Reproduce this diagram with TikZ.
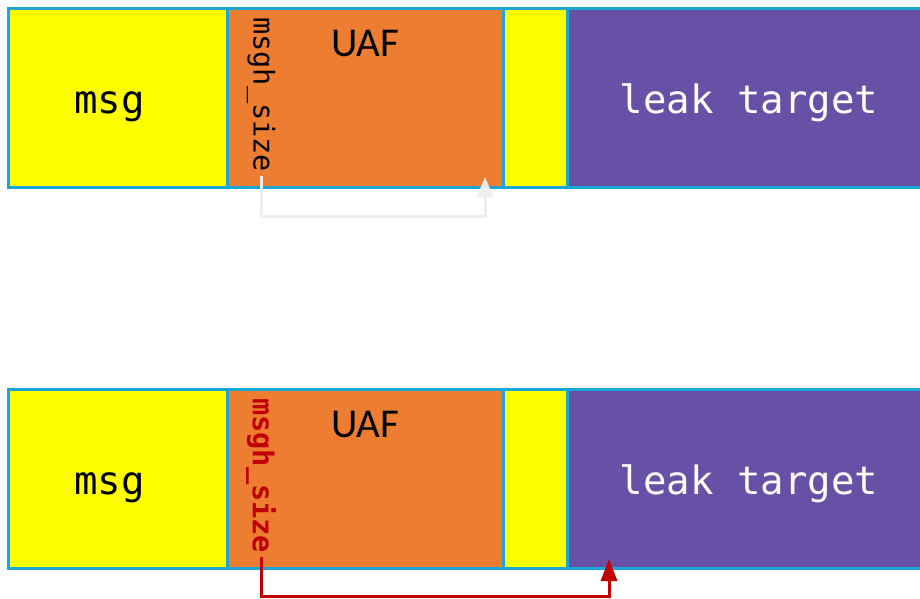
\documentclass[tikz,border=0pt]{standalone}
\usepackage{fontspec}
\setmainfont{Carlito}
\newfontfamily\codefont{DejaVu Sans Mono}
\usetikzlibrary{positioning,arrows.meta}
\definecolor{cellline}{HTML}{1BA6D6}
\definecolor{cellyellow}{HTML}{FFFF00}
\definecolor{uaforange}{HTML}{ED7D31}
\definecolor{leakpurple}{HTML}{6750A6}
\definecolor{oldgray}{HTML}{EEEEEE}
\definecolor{hitred}{HTML}{C00000}

\begin{document}
\begin{tikzpicture}[x=1pt, y=-1pt,
    cell/.style={rectangle, draw=cellline, line width=3pt, outer sep=0pt, inner sep=0pt, minimum height=179pt},
    codetext/.style={font=\codefont\fontsize{39}{39}\selectfont, text height=31pt, text depth=0pt},
    uaftext/.style={anchor=north, inner sep=0pt, font=\fontsize{41}{41}\selectfont},
    sizetext/.style={font=\codefont\fontsize{28.6}{29}\selectfont, rotate=-90, anchor=west, inner sep=4pt}]
      %\draw[help lines] (0, 0) grid[step=20] (920, 598);
      \useasboundingbox (0,0) rectangle (920,598);
      \clip (0,0) rectangle (920,598);

      % before
      \node [cell, fill=cellyellow, minimum width=219pt, anchor=north west] (msgTop) at (8,8) {};
      \node [cell, fill=uaforange, minimum width=276pt, right=0pt of msgTop] (uafTop) {};
      \node [cell, fill=cellyellow, minimum width=64pt, right=0pt of uafTop] (padTop) {};
      \node [cell, fill=leakpurple, minimum width=364pt, right=0pt of padTop, codetext, text=white] (leakTop) {leak target};
      \node [codetext] (msgLabelTop) at ([xshift=-8pt]msgTop.center) {msg};
      \node [uaftext] (uafLabelTop) at ([yshift=-22pt]uafTop.north) {UAF};
      \node [sizetext] (sizeTop) at (261,13) {msgh\_size};

      \coordinate (tipTop) at (485,177);
      \draw[line width=3pt, draw=oldgray, -{Triangle[width=16pt,length=20pt]}] (sizeTop.east) -- ++(0,40) -| (tipTop);

      % after
      \node [cell, fill=cellyellow, minimum width=219pt, anchor=north west] (msgBot) at (8,389) {};
      \node [cell, fill=uaforange, minimum width=276pt, right=0pt of msgBot] (uafBot) {};
      \node [cell, fill=cellyellow, minimum width=64pt, right=0pt of uafBot] (padBot) {};
      \node [cell, fill=leakpurple, minimum width=364pt, right=0pt of padBot, codetext, text=white] (leakBot) {leak target};
      \node [codetext] (msgLabelBot) at ([xshift=-8pt]msgBot.center) {msg};
      \node [uaftext] (uafLabelBot) at ([yshift=-22pt]uafBot.north) {UAF};
      \node [sizetext, text=hitred, font=\codefont\bfseries\fontsize{28.6}{29}\selectfont] (sizeBot) at (261,394) {msgh\_size};

      \coordinate (tipBot) at (609,559);
      \draw[line width=3pt, draw=hitred, -{Triangle[width=16pt,length=22pt]}] (sizeBot.east) -- ++(0,39) -| (tipBot);

\end{tikzpicture}
\end{document}
